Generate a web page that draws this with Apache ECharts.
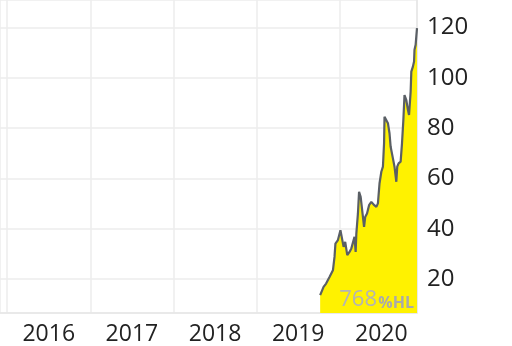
<!DOCTYPE html>
<html>
<head>
<meta charset="utf-8">
<script src="https://cdn.jsdelivr.net/npm/echarts@6/dist/echarts.min.js"></script>
<style>html,body{margin:0;padding:0;background:#fff;}#c{width:512px;height:346px;}</style>
</head>
<body>
<div id="c"></div>
<script>
// Data
var dates = ['2019-10-07','2019-10-14','2019-10-22','2019-11-02','2019-11-17','2019-12-02','2019-12-09','2019-12-13','2019-12-24',
  '2020-01-04','2020-01-11','2020-01-18','2020-01-25','2020-02-03','2020-02-13','2020-02-21','2020-03-02','2020-03-06','2020-03-11',
  '2020-03-14','2020-03-21','2020-03-26','2020-04-02','2020-04-12','2020-04-17','2020-04-22','2020-04-30','2020-05-09','2020-05-19',
  '2020-06-01','2020-06-10','2020-06-17','2020-06-24','2020-07-02','2020-07-09','2020-07-14','2020-07-16','2020-07-24','2020-07-31',
  '2020-08-07','2020-08-12','2020-08-18','2020-08-22','2020-08-29','2020-09-06','2020-09-10','2020-09-16','2020-09-25','2020-10-01',
  '2020-10-07','2020-10-12','2020-10-20','2020-10-27','2020-11-01','2020-11-08','2020-11-11','2020-11-18','2020-11-23','2020-11-25',
  '2020-11-30','2020-12-03','2020-12-06'];
var prices = [13.6,13.6,16.9,18.2,20.8,23.5,28.8,34.1,35.5,
  39.4,39.4,32.8,34.8,29.5,30.8,32.2,35.5,36.8,30.8,
  38.1,46.1,54.7,52.7,44.7,40.8,44.7,46.1,49.4,50.7,
  49.4,48.7,50.1,58.0,62.7,64.7,74.0,84.6,84.0,82.0,
  78.0,72.6,72.6,68.0,64.7,58.7,64.7,66.0,66.7,74.0,
  83.3,93.2,91.2,87.3,85.3,94.5,102.5,104.5,106.5,111.2,
  113.2,116.5,119.8];
var yearLabels = ['2016','2017','2018','2019','2020'];
var yTicks = [20,40,60,80,100,120];
var gainText = '768';
var gainUnit = '%HL';

function toYear(s){
  var p = s.split('-').map(Number);
  var start = Date.UTC(p[0],0,1), end = Date.UTC(p[0]+1,0,1);
  return p[0] + (Date.UTC(p[0],p[1]-1,p[2]) - start)/(end-start);
}
var seriesData = dates.map(function(d,i){ return [toYear(d), prices[i]]; });

var xMin = 2015.914, xMax = seriesData[seriesData.length-1][0];
var fontFam = '"Open Sans", "Noto Sans", sans-serif';

var chart = echarts.init(document.getElementById('c'), null, {renderer:'canvas'});
chart.setOption({
  animation:false,
  backgroundColor:'#ffffff',
  grid:{left:0,right:95,top:0,bottom:33,containLabel:false},
  xAxis:[{
    type:'value', min:xMin, max:xMax, splitNumber:5, position:'bottom',
    axisLine:{show:true,lineStyle:{color:'#e6e6e6',width:1.5}},
    axisTick:{show:false}, axisLabel:{show:false},
    splitLine:{show:true,lineStyle:{color:'#ececec',width:1.5}}
  },{
    type:'value', min:xMin-0.5, max:xMax-0.5, splitNumber:5, position:'bottom',
    axisLine:{show:false}, axisTick:{show:false}, splitLine:{show:false},
    axisLabel:{show:true, showMinLabel:false, showMaxLabel:false, margin:10,
      color:'#222', fontSize:23, fontFamily:fontFam,
      formatter:function(v){ var s=String(Math.round(v)); return yearLabels.indexOf(s)>=0?s:''; }}
  }],
  yAxis:{
    type:'value', position:'right', min:6.5, max:131, splitNumber:6,
    axisLine:{show:true,lineStyle:{color:'#e6e6e6',width:1.5}},
    axisTick:{show:false},
    axisLabel:{show:true, showMinLabel:false, showMaxLabel:false, margin:10,
      color:'#222', fontSize:24, fontFamily:fontFam,
      formatter:function(v){ return yTicks.indexOf(Math.round(v))>=0 ? String(Math.round(v)) : ''; }},
    splitLine:{show:true,lineStyle:{color:'#ececec',width:1.5}}
  },
  series:[{
    type:'line', xAxisIndex:0, data:seriesData, showSymbol:false, symbol:'none',
    lineStyle:{color:'#5a5f65',width:2.2},
    areaStyle:{color:'#fff200',opacity:1, origin:'start'},
    z:3
  }],
  graphic:[
    {type:'text', right:98, top:295, z:10, style:{text:gainUnit, font:'bold 16px '+fontFam, fill:'#aaaaaa'}},
    {type:'text', right:135, top:289, z:10, style:{text:gainText, font:'22px '+fontFam, fill:'#b4b4b4'}}
  ]
});
</script>
</body>
</html>
